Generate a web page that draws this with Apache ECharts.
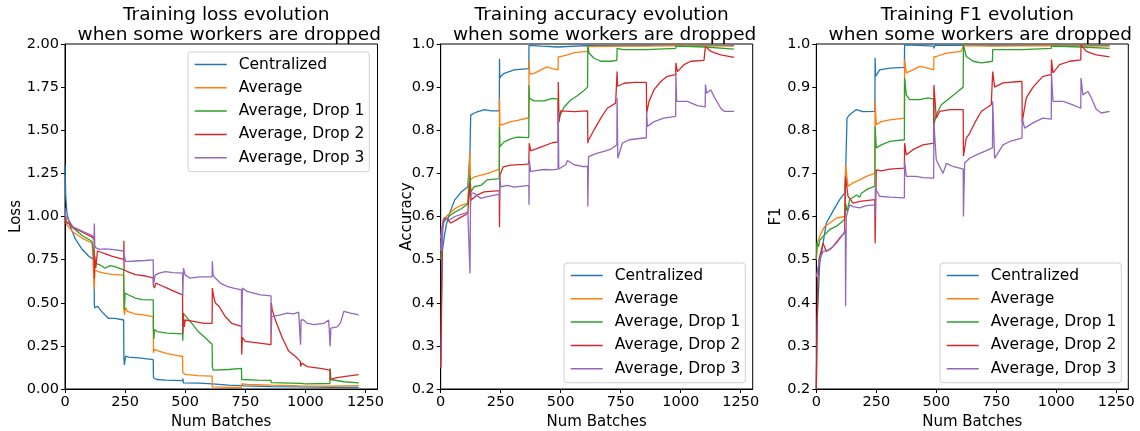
<!DOCTYPE html>
<html><head><meta charset="utf-8">
<script src="https://cdn.jsdelivr.net/npm/echarts@6/dist/echarts.min.js"></script>
<style>html,body{margin:0;padding:0;background:#fff}#c{width:1140px;height:431px}</style>
</head><body><div id="c"></div>
<script>
const seriesNames = ['Centralized', 'Average', 'Average, Drop 1', 'Average, Drop 2', 'Average, Drop 3'];
const titles = ['Training loss evolution\n when some workers are dropped',
                'Training accuracy evolution\n when some workers are dropped',
                'Training F1 evolution\n when some workers are dropped'];
const yNames = ['Loss', 'Accuracy', 'F1'];
const xName = 'Num Batches';
const xTicks = [0, 250, 500, 750, 1000, 1250];
const lossTicks = [0, 0.25, 0.5, 0.75, 1.0, 1.25, 1.5, 1.75, 2.0];
const scoreTicks = [0.2, 0.3, 0.4, 0.5, 0.6, 0.7, 0.8, 0.9, 1.0];

// ---- Loss ----
const lossCentralized = [[0,1.30],[3,1.12],[8,1.02],[15,0.98],[25,0.93],[43,0.87],[71,0.81],[99,0.77],[121,0.75],
 [122,0.49],[124,0.47],[135,0.48],[152,0.45],[180,0.41],[208,0.41],[244,0.40],
 [245,0.18],[247,0.14],[252,0.19],[265,0.185],[307,0.18],[367,0.17],
 [368,0.065],[380,0.055],[420,0.052],[489,0.048],[490,0.06],[493,0.035],[560,0.034],[612,0.03],[613,0.04],[618,0.025],[680,0.022],[735,0.02],[737,0.028],[745,0.018],[858,0.014],[980,0.012],[1103,0.01],[1222,0.009]];
const lossAverage = [[0,1.0],[5,0.96],[15,0.94],[33,0.91],[71,0.875],[113,0.845],[121,0.84],
 [122,0.58],[124,0.69],[138,0.68],[166,0.67],[194,0.665],[244,0.66],
 [245,0.47],[247,0.43],[252,0.47],[260,0.45],[290,0.435],[325,0.43],[367,0.42],
 [368,0.21],[372,0.23],[390,0.22],[425,0.205],[480,0.19],[489,0.19],
 [490,0.095],[500,0.085],[550,0.078],[612,0.075],
 [613,0.012],[680,0.01],[734,0.01],[735,0.03],[760,0.026],[858,0.022],[980,0.018],[1103,0.016],[1222,0.02]];
const lossDrop1 = [[0,1.0],[5,0.97],[15,0.96],[33,0.935],[71,0.89],[113,0.855],[121,0.845],
 [122,0.75],[126,0.73],[145,0.72],[166,0.70],[188,0.715],[208,0.71],[244,0.69],
 [245,0.59],[247,0.46],[250,0.556],[265,0.545],[293,0.527],[320,0.518],[367,0.517],
 [368,0.35],[370,0.29],[372,0.345],[383,0.333],[425,0.324],[489,0.32],
 [490,0.28],[492,0.44],[497,0.44],[525,0.385],[553,0.335],[581,0.30],[612,0.26],
 [613,0.13],[616,0.11],[680,0.113],[734,0.12],
 [735,0.055],[800,0.052],[857,0.05],[858,0.037],[979,0.033],[980,0.025],[1000,0.03],[1102,0.032],[1103,0.12],[1106,0.055],[1160,0.042],[1222,0.035]];
const lossDrop2 = [[0,1.0],[5,0.97],[15,0.96],[33,0.935],[71,0.91],[113,0.88],[121,0.866],
 [122,0.64],[124,0.77],[128,0.70],[135,0.80],[166,0.785],[194,0.77],[244,0.752],
 [245,0.86],[246,0.69],[250,0.68],[260,0.68],[293,0.663],[335,0.655],[367,0.644],
 [368,0.60],[372,0.585],[378,0.614],[400,0.60],[425,0.585],[455,0.566],[489,0.546],
 [490,0.32],[492,0.44],[496,0.36],[500,0.40],[540,0.39],[580,0.38],[612,0.38],
 [613,0.585],[618,0.54],[625,0.50],[640,0.48],[667,0.42],[694,0.38],[734,0.363],
 [735,0.20],[738,0.30],[750,0.276],[785,0.27],[857,0.257],
 [858,0.50],[862,0.46],[875,0.40],[903,0.30],[930,0.22],[958,0.19],[979,0.16],
 [980,0.13],[985,0.15],[1007,0.13],[1062,0.12],[1102,0.11],
 [1103,0.054],[1125,0.064],[1167,0.073],[1222,0.083]];
const lossDrop3 = [[0,1.05],[3,1.0],[15,0.98],[33,0.94],[71,0.915],[113,0.89],[121,0.876],
 [122,0.96],[124,0.83],[130,0.817],[145,0.81],[166,0.812],[194,0.81],[244,0.80],
 [245,0.74],[247,0.77],[252,0.74],[265,0.74],[293,0.742],[335,0.745],[367,0.748],
 [368,0.60],[370,0.62],[375,0.66],[392,0.672],[417,0.68],[450,0.675],[489,0.672],
 [490,0.54],[493,0.70],[500,0.66],[521,0.643],[560,0.65],[612,0.65],
 [613,0.74],[616,0.66],[625,0.643],[646,0.614],[674,0.595],[701,0.585],[734,0.575],
 [735,0.305],[738,0.585],[757,0.566],[785,0.556],[813,0.546],[857,0.54],
 [858,0.315],[860,0.42],[868,0.42],[896,0.43],[924,0.44],[951,0.435],[972,0.445],[979,0.44],
 [980,0.257],[982,0.40],[993,0.40],[1007,0.382],[1035,0.373],[1076,0.38],[1097,0.40],[1102,0.40],
 [1103,0.247],[1106,0.353],[1132,0.36],[1146,0.382],[1160,0.45],[1188,0.44],[1222,0.43]];

// ---- Accuracy ----
const accCentralized = [[0,0.25],[3,0.40],[7,0.52],[14,0.55],[23,0.58],[37,0.607],[58,0.638],[86,0.657],[113,0.669],[121,0.672],
 [122,0.75],[125,0.835],[140,0.84],[155,0.843],[183,0.848],[210,0.845],[244,0.845],
 [245,0.966],[246,0.92],[250,0.925],[265,0.932],[306,0.94],[367,0.943],
 [368,0.997],[420,0.995],[489,0.993],[490,0.99],[495,0.995],[600,0.996],[735,0.996],[858,0.997],[980,0.997],[1103,0.997],[1222,0.997]];
const accAverage = [[0,0.55],[5,0.572],[12,0.59],[23,0.6],[37,0.607],[58,0.618],[86,0.626],[113,0.631],[121,0.633],
 [122,0.75],[124,0.685],[141,0.692],[169,0.696],[196,0.70],[224,0.706],[244,0.709],
 [245,0.874],[247,0.812],[265,0.815],[293,0.82],[320,0.823],[367,0.829],
 [368,0.963],[370,0.93],[390,0.932],[417,0.94],[444,0.947],[465,0.943],[489,0.94],
 [490,0.97],[500,0.971],[528,0.975],[556,0.98],[612,0.983],
 [613,0.994],[735,0.995],[858,0.995],[980,0.996],[1222,0.995]];
const accDrop1 = [[0,0.5],[5,0.565],[14,0.588],[33,0.6],[58,0.61],[86,0.618],[113,0.629],[121,0.63],
 [122,0.696],[126,0.657],[139,0.669],[167,0.672],[194,0.685],[244,0.688],
 [245,0.808],[247,0.762],[264,0.773],[292,0.78],[320,0.784],[367,0.783],
 [368,0.905],[370,0.874],[389,0.868],[431,0.868],[465,0.874],[489,0.872],
 [490,0.812],[494,0.83],[514,0.854],[542,0.87],[569,0.88],[597,0.892],[612,0.9],
 [613,0.998],[618,0.979],[639,0.967],[667,0.96],[708,0.96],[734,0.962],
 [735,0.99],[760,0.987],[857,0.987],[858,0.99],[979,0.99],[980,0.995],[1103,0.993],[1222,0.988]];
const accDrop2 = [[0,0.25],[3,0.35],[7,0.575],[14,0.597],[28,0.593],[42,0.585],[58,0.59],[83,0.598],[113,0.607],[121,0.607],
 [122,0.678],[125,0.638],[153,0.65],[181,0.657],[244,0.66],
 [245,0.575],[247,0.696],[260,0.715],[292,0.719],[350,0.721],[367,0.722],
 [368,0.745],[369,0.77],[375,0.752],[417,0.761],[465,0.771],[489,0.773],
 [490,0.912],[493,0.82],[500,0.845],[556,0.843],[612,0.845],
 [613,0.77],[616,0.778],[625,0.786],[639,0.801],[667,0.828],[694,0.851],[729,0.863],
 [735,0.936],[737,0.902],[764,0.909],[806,0.911],[857,0.911],
 [858,0.84],[868,0.867],[889,0.894],[917,0.913],[944,0.925],[979,0.929],
 [980,0.956],[986,0.936],[1014,0.952],[1042,0.96],[1097,0.962],[1102,0.962],
 [1103,0.994],[1125,0.983],[1167,0.975],[1222,0.969]];
const accDrop3 = [[0,0.52],[3,0.575],[6,0.52],[10,0.592],[23,0.594],[37,0.592],[58,0.6],[86,0.605],[113,0.61],[121,0.61],
 [122,0.468],[124,0.62],[127,0.654],[139,0.654],[167,0.642],[194,0.646],[244,0.652],
 [245,0.64],[246,0.69],[250,0.669],[278,0.672],[306,0.668],[367,0.672],
 [368,0.627],[369,0.73],[375,0.704],[389,0.706],[431,0.709],[465,0.708],[489,0.71],
 [490,0.842],[492,0.71],[500,0.712],[521,0.72],[528,0.73],[556,0.72],[590,0.716],[612,0.716],
 [613,0.623],[616,0.739],[653,0.747],[681,0.751],[708,0.756],[734,0.766],
 [735,0.875],[738,0.735],[757,0.77],[785,0.778],[847,0.782],[857,0.782],
 [858,0.844],[861,0.809],[889,0.82],[930,0.828],[979,0.832],
 [980,0.933],[983,0.867],[1028,0.867],[1069,0.857],[1102,0.854],
 [1103,0.906],[1108,0.886],[1125,0.894],[1139,0.878],[1167,0.851],[1181,0.844],[1222,0.844]];

// ---- F1 ----
const f1Centralized = [[0,0.2],[3,0.35],[14,0.49],[28,0.538],[42,0.585],[69,0.612],[97,0.639],[118,0.654],[121,0.655],
 [122,0.7],[128,0.828],[139,0.836],[167,0.848],[194,0.843],[244,0.844],
 [245,0.968],[247,0.925],[264,0.94],[306,0.944],[367,0.946],
 [368,0.998],[450,0.996],[489,0.995],[490,0.99],[495,0.997],[735,0.997],[1222,0.997]];
const f1Average = [[0,0.5],[5,0.54],[14,0.554],[35,0.577],[56,0.585],[83,0.596],[118,0.6],[121,0.6],
 [122,0.72],[132,0.67],[153,0.678],[181,0.685],[208,0.693],[244,0.7],
 [245,0.867],[250,0.813],[271,0.82],[306,0.824],[367,0.828],
 [368,0.964],[375,0.933],[403,0.94],[431,0.948],[465,0.944],[489,0.94],
 [490,0.97],[500,0.971],[542,0.979],[604,0.983],[612,0.983],
 [613,0.996],[735,0.995],[980,0.996],[1222,0.995]];
const f1Drop1 = [[0,0.5],[3,0.54],[10,0.53],[14,0.545],[28,0.554],[56,0.57],[83,0.577],[118,0.593],[121,0.593],
 [122,0.631],[128,0.612],[139,0.639],[167,0.65],[181,0.645],[188,0.654],[215,0.664],[244,0.67],
 [245,0.809],[250,0.759],[271,0.766],[306,0.774],[367,0.778],
 [368,0.921],[375,0.882],[389,0.871],[431,0.871],[465,0.875],[489,0.872],
 [490,0.813],[500,0.836],[521,0.859],[556,0.875],[590,0.89],[612,0.9],
 [613,0.998],[625,0.971],[653,0.96],[688,0.956],[734,0.96],
 [735,0.987],[857,0.987],[858,0.99],[979,0.99],[980,0.995],[1103,0.993],[1222,0.99]];
const f1Drop2 = [[0,0.2],[3,0.2],[6,0.45],[11,0.5],[28,0.538],[42,0.519],[69,0.53],[97,0.55],[118,0.562],[121,0.562],
 [122,0.693],[132,0.647],[153,0.631],[181,0.635],[244,0.639],
 [245,0.538],[250,0.708],[271,0.706],[306,0.71],[367,0.712],
 [368,0.77],[375,0.743],[403,0.755],[444,0.766],[489,0.77],
 [490,0.905],[500,0.828],[514,0.844],[556,0.848],[612,0.848],
 [613,0.74],[625,0.782],[639,0.793],[660,0.817],[688,0.844],[729,0.859],
 [735,0.936],[743,0.9],[778,0.91],[847,0.913],[857,0.913],
 [858,0.82],[875,0.875],[903,0.9],[944,0.925],[979,0.929],
 [980,0.964],[986,0.933],[1014,0.952],[1056,0.96],[1102,0.963],
 [1103,0.998],[1125,0.983],[1167,0.975],[1222,0.97]];
const f1Drop3 = [[0,0.46],[3,0.469],[14,0.5],[28,0.519],[56,0.523],[83,0.538],[111,0.558],[121,0.57],
 [122,0.392],[125,0.6],[139,0.627],[153,0.623],[181,0.62],[208,0.625],[244,0.627],
 [245,0.6],[246,0.666],[264,0.647],[306,0.645],[367,0.643],
 [368,0.728],[375,0.693],[417,0.693],[444,0.69],[489,0.689],
 [490,0.817],[500,0.731],[528,0.7],[542,0.723],[569,0.716],[612,0.71],
 [613,0.6],[618,0.724],[639,0.735],[667,0.743],[701,0.751],[734,0.759],
 [735,0.867],[743,0.735],[778,0.766],[806,0.774],[857,0.782],
 [858,0.828],[868,0.805],[903,0.817],[944,0.828],[979,0.826],
 [980,0.933],[986,0.867],[1028,0.867],[1069,0.859],[1102,0.851],
 [1103,0.921],[1111,0.882],[1132,0.89],[1146,0.875],[1167,0.848],[1188,0.84],[1222,0.844]];

const panelData = [
  [lossCentralized, lossAverage, lossDrop1, lossDrop2, lossDrop3],
  [accCentralized, accAverage, accDrop1, accDrop2, accDrop3],
  [f1Centralized, f1Average, f1Drop1, f1Drop2, f1Drop3]
];
const colors = ['#1f77b4', '#ff7f0e', '#2ca02c', '#d62728', '#9467bd'];
const FONT = 'DejaVu Sans';

// layout (pixels)
const grids = [
  {left: 65, top: 44, width: 312.5, height: 345},
  {left: 440.7, top: 44, width: 312, height: 345},
  {left: 816.3, top: 44, width: 312, height: 345}
];
const yNameGaps = [41, 26, 33];
const legendPos = [{left: 188, top: 52}, {left: 564, top: 263}, {left: 940, top: 263}];

const option = {
  animation: false,
  backgroundColor: '#fff',
  color: colors,
  title: grids.map((g, i) => ({
    text: titles[i], left: g.left + g.width / 2, top: 0.5, textAlign: 'center',
    textStyle: {fontFamily: FONT, fontSize: 18.5, fontWeight: 'normal', color: '#000', lineHeight: 20}
  })),
  grid: grids.map(g => ({left: g.left, top: g.top, width: g.width, height: g.height,
    show: true, borderColor: '#000', borderWidth: 1, backgroundColor: 'transparent', outerBoundsMode: 'none'})),
  legend: legendPos.map((p, i) => ({
    data: seriesNames, orient: 'vertical', left: p.left, top: p.top,
    padding: [4.5, 5, 6, 6], itemGap: 7.3, itemWidth: 32, itemHeight: 14,
    backgroundColor: 'rgba(255,255,255,0.8)', borderColor: '#d0d0d0', borderWidth: 1, borderRadius: 3,
    lineStyle: {width: 1.5},
    itemStyle: {opacity: 0, borderWidth: 0},
    textStyle: {fontFamily: FONT, fontSize: 15.5, lineHeight: 14, color: '#000', padding: [0, 0, 0, 7]},
    selectedMode: false
  })),
  xAxis: grids.map((g, i) => ({
    gridIndex: i, type: 'value', min: 0, max: 1300,
    name: xName, nameLocation: 'middle', nameGap: 21,
    nameTextStyle: {fontFamily: FONT, fontSize: 15, color: '#000'},
    axisLine: {show: true, onZero: false, lineStyle: {color: '#000', width: 1}},
    axisTick: {show: true, length: 4, customValues: xTicks, lineStyle: {color: '#000'}},
    axisLabel: {customValues: xTicks, margin: 6, fontFamily: FONT, fontSize: 14.5, color: '#000',
      formatter: v => String(v)},
    splitLine: {show: false}
  })),
  yAxis: grids.map((g, i) => {
    const ticks = i === 0 ? lossTicks : scoreTicks;
    return {
      gridIndex: i, type: 'value', min: ticks[0], max: ticks[ticks.length - 1],
      name: yNames[i], nameLocation: 'middle', nameGap: yNameGaps[i], nameRotate: 90,
      nameMoveOverlap: false,
      nameTextStyle: {fontFamily: FONT, fontSize: 15, color: '#000'},
      axisLine: {show: true, onZero: false, lineStyle: {color: '#000', width: 1}},
      axisTick: {show: true, length: 4, customValues: ticks, lineStyle: {color: '#000'}},
      axisLabel: {customValues: ticks, margin: 6, fontFamily: FONT, fontSize: 14.5, color: '#000',
        formatter: v => i === 0 ? Number(v).toFixed(2) : Number(v).toFixed(1)},
      splitLine: {show: false}
    };
  }),
  series: []
};
panelData.forEach((arrs, pi) => {
  arrs.forEach((d, si) => {
    option.series.push({
      name: seriesNames[si], type: 'line', xAxisIndex: pi, yAxisIndex: pi,
      data: d, symbol: 'none', showSymbol: false, clip: true,
      lineStyle: {width: 1.3, color: colors[si]}, itemStyle: {color: colors[si]},
      emphasis: {disabled: true}
    });
  });
});
const chart = echarts.init(document.getElementById('c'), null, {renderer: 'canvas'});
chart.setOption(option);
</script>
</body></html>
